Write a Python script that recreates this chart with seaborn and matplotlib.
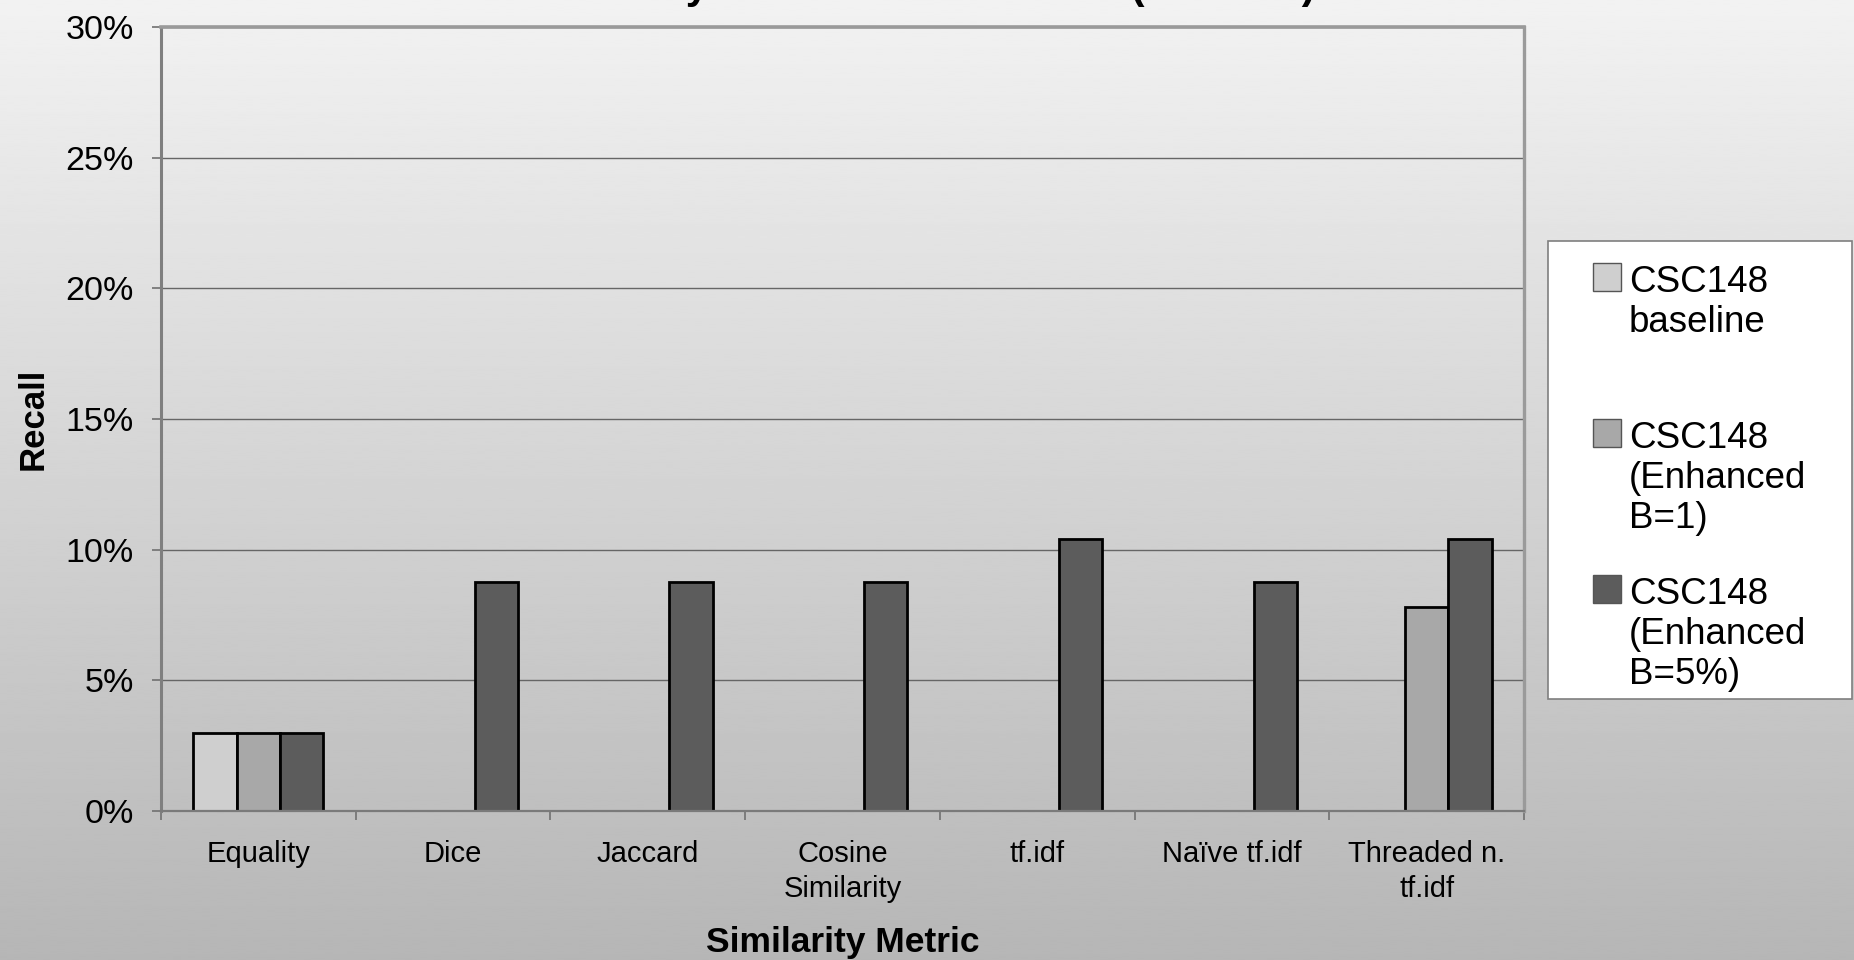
import numpy as np
import pandas as pd
import matplotlib
matplotlib.use("Agg")
import matplotlib.pyplot as plt
from matplotlib.patches import Rectangle
from matplotlib.ticker import PercentFormatter
import seaborn as sns

# ---- data -------------------------------------------------------------
metrics = ["Equality", "Dice", "Jaccard", "Cosine\nSimilarity", "tf.idf",
           "Naïve tf.idf", "Threaded n.\ntf.idf"]
series = ["CSC148\nbaseline", "CSC148\n(Enhanced\nB=1)", "CSC148\n(Enhanced\nB=5%)"]
baseline = [3.0, 0.0, 0.0, 0.0, 0.0, 0.0, 0.0]
enhanced_b1 = [3.0, 0.0, 0.0, 0.0, 0.0, 0.0, 7.8]
enhanced_b5 = [3.0, 8.75, 8.75, 8.75, 10.4, 8.75, 10.4]
y_ticks = [0, 5, 10, 15, 20, 25, 30]
title = "Recall by Metric and Heuristic (CSC148)"
x_label = "Similarity Metric"
y_label = "Recall"

colors = ["#CFCFCF", "#A8A8A8", "#5C5C5C"]

df = pd.DataFrame({
    "metric": metrics * 3,
    "recall": baseline + enhanced_b1 + enhanced_b5,
    "series": [series[0]] * 7 + [series[1]] * 7 + [series[2]] * 7,
})

sns.set_theme(style="white")
plt.rcParams["font.family"] = ["Liberation Sans", "DejaVu Sans"]

W, H = 1854, 960
fig = plt.figure(figsize=(W / 100, H / 100), dpi=100)

# vertical grey gradient behind everything
bg = fig.add_axes([0, 0, 1, 1], zorder=-10)
grad = np.linspace(242, 182, 400).reshape(-1, 1)
bg.imshow(grad, cmap="gray", vmin=0, vmax=255, aspect="auto",
          extent=[0, 1, 0, 1], interpolation="bilinear")
bg.axis("off")

# plot area in pixels: x 161..1524, y 27..811 (from top)
L, R, T, B = 161, 1524, 27, 811
ax = fig.add_axes([L / W, 1 - B / H, (R - L) / W, (B - T) / H])
ax.set_facecolor("none")

sns.barplot(data=df, x="metric", y="recall", hue="series", order=metrics,
            hue_order=series, palette=colors, saturation=1, width=2 / 3,
            edgecolor="black", linewidth=2.0, legend=False, ax=ax)
for p in ax.patches:
    if p.get_height() == 0:
        p.set_linewidth(0)

ax.set_ylim(0, 30)
ax.set_yticks(y_ticks)
ax.yaxis.set_major_formatter(PercentFormatter(decimals=0))
ax.yaxis.grid(True, color="#666666", linewidth=1.0)
ax.set_axisbelow(True)

ax.set_xlim(-0.5, len(metrics) - 0.5)
ax.set_xticks(np.arange(-0.5, len(metrics), 1), minor=True)
ax.tick_params(axis="y", which="major", left=True, length=6.5, width=1.2,
               color="#707070", pad=13, labelsize=24.5, labelcolor="black")
ax.tick_params(axis="x", which="major", bottom=False, length=0, pad=21,
               labelsize=21, labelcolor="black")
ax.tick_params(axis="x", which="minor", bottom=True, length=6.5, width=1.2,
               color="#707070")
for lbl in ax.get_xticklabels():
    lbl.set_linespacing(1.3)

for side, col, lw in [("left", "#7f7f7f", 2.2), ("bottom", "#7a7a7a", 1.6),
                      ("top", "#9a9a9a", 2.6), ("right", "#9a9a9a", 2.4)]:
    ax.spines[side].set_visible(True)
    ax.spines[side].set_color(col)
    ax.spines[side].set_linewidth(lw)

ax.set_xlabel(x_label, fontsize=25.5, fontweight="bold", color="black")
ax.xaxis.set_label_coords(0.5, (H - 952 - (H - B)) / (B - T))
ax.xaxis.label.set_verticalalignment("baseline")

ax.set_ylabel(y_label, fontsize=25, fontweight="bold", color="black")
ax.yaxis.set_label_coords((43 - L) / (R - L), 0.5)
ax.yaxis.label.set_verticalalignment("baseline")

# chart title sits above the top edge of the canvas
fig.text(526 / W, 1 + 2 / H, title, fontsize=30, fontweight="bold",
         ha="left", va="baseline", color="black")

# legend panel on the right
lg = fig.add_axes([0, 0, 1, 1], zorder=5)
lg.set_xlim(0, W)
lg.set_ylim(H, 0)
lg.axis("off")
lg.add_patch(Rectangle((1548, 241), 304, 458, facecolor="white",
                       edgecolor="#7f7f7f", linewidth=1.2))
sw_tops = [263, 419, 575]
for label, col, top in zip(series, colors, sw_tops):
    lg.add_patch(Rectangle((1593, top), 28, 28, facecolor=col,
                           edgecolor="#555555", linewidth=1.0))
    for k, line in enumerate(label.split("\n")):
        lg.text(1629, top + 29 + 40 * k, line, fontsize=26.5, ha="left",
                va="baseline", color="black")

fig.savefig("out.png", dpi=100)
